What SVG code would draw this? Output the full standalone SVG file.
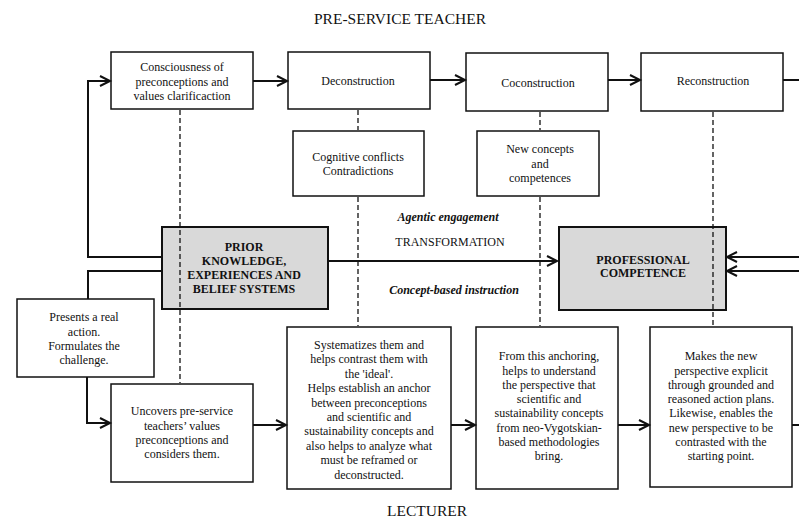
<svg xmlns="http://www.w3.org/2000/svg" width="799" height="521" viewBox="0 0 799 521">
<style>
text{font-family:"Liberation Serif","Times New Roman",serif;font-size:12px;fill:#111;text-anchor:middle}
.box{fill:#fff;stroke:#111;stroke-width:1.5}
.gbox{fill:#d9d9d9;stroke:#111;stroke-width:2}
.ln{fill:none;stroke:#111;stroke-width:2}
.dash{fill:none;stroke:#111;stroke-width:1.3;stroke-dasharray:5,3}
.big{font-size:15.5px}
.b{font-weight:bold}
.bi{font-weight:bold;font-style:italic}
</style>
<defs>
<marker id="ah" markerUnits="userSpaceOnUse" markerWidth="14" markerHeight="14" refX="11" refY="6" orient="auto" overflow="visible">
<path d="M1,1 L11,6 L1,11" fill="none" stroke="#111" stroke-width="2"/>
</marker>
</defs>
<rect width="799" height="521" fill="#fff"/>
<text class="big" x="400" y="24">PRE-SERVICE TEACHER</text>
<text class="big" x="427" y="516">LECTURER</text>

<g id="consciousness">
<rect class="box" x="111" y="52" width="142" height="57"/>
<text x="182" y="71">Consciousness of</text>
<text x="182" y="86">preconceptions and</text>
<text x="182" y="100">values clarificaction</text>
</g>
<g id="deconstruction">
<rect class="box" x="288" y="52" width="142" height="57"/>
<text x="358" y="85">Deconstruction</text>
</g>
<g id="coconstruction">
<rect class="box" x="466" y="53" width="142" height="58"/>
<text x="538" y="87">Coconstruction</text>
</g>
<g id="reconstruction">
<rect class="box" x="641" y="53" width="142" height="58"/>
<text x="713" y="85">Reconstruction</text>
</g>
<g id="cognitive">
<rect class="box" x="293" y="131" width="131" height="65"/>
<text x="358" y="161">Cognitive conflicts</text>
<text x="358" y="175">Contradictions</text>
</g>
<g id="newconcepts">
<rect class="box" x="477" y="131" width="122" height="65"/>
<text x="540" y="153">New concepts</text>
<text x="540" y="168">and</text>
<text x="540" y="182">competences</text>
</g>

<g id="labels">
<text class="bi" x="448" y="221">Agentic engagement</text>
<text x="450" y="246">TRANSFORMATION</text>
<text class="bi" x="454" y="294">Concept-based instruction</text>
</g>

<g id="prior">
<rect class="gbox" x="162" y="227" width="166" height="82"/>
<text class="b" x="244" y="251">PRIOR</text>
<text class="b" x="244" y="265">KNOWLEDGE,</text>
<text class="b" x="244" y="279">EXPERIENCES AND</text>
<text class="b" x="244" y="293">BELIEF SYSTEMS</text>
</g>
<g id="professional">
<rect class="gbox" x="559" y="227" width="167" height="83"/>
<text class="b" x="643" y="264">PROFESSIONAL</text>
<text class="b" x="643" y="277">COMPETENCE</text>
</g>

<g id="presents">
<rect class="box" x="17" y="299" width="137" height="78"/>
<text x="84" y="321">Presents a real</text>
<text x="84" y="336">action.</text>
<text x="84" y="350">Formulates the</text>
<text x="84" y="364">challenge.</text>
</g>
<g id="uncovers">
<rect class="box" x="111" y="384" width="142" height="98"/>
<text x="182" y="415">Uncovers pre-service</text>
<text x="182" y="430">teachers’ values</text>
<text x="182" y="444">preconceptions and</text>
<text x="182" y="458">considers them.</text>
</g>
<g id="systematizes">
<rect class="box" x="287" y="327" width="164" height="162"/>
<text x="369" y="349">Systematizes them and</text>
<text x="369" y="363">helps contrast them with</text>
<text x="369" y="378">the 'ideal'.</text>
<text x="369" y="392">Helps establish an anchor</text>
<text x="369" y="407">between preconceptions</text>
<text x="369" y="421">and scientific and</text>
<text x="369" y="435">sustainability concepts and</text>
<text x="369" y="450">also helps to analyze what</text>
<text x="369" y="464">must be reframed or</text>
<text x="369" y="479">deconstructed.</text>
</g>
<g id="from">
<rect class="box" x="476" y="327" width="142" height="162"/>
<text x="549" y="360">From this anchoring,</text>
<text x="549" y="375">helps to understand</text>
<text x="549" y="389">the perspective that</text>
<text x="549" y="403">scientific and</text>
<text x="549" y="417">sustainability concepts</text>
<text x="549" y="432">from neo-Vygotskian-</text>
<text x="549" y="446">based methodologies</text>
<text x="549" y="460">bring.</text>
</g>
<g id="makes">
<rect class="box" x="650" y="327" width="142" height="160"/>
<text x="721" y="360">Makes the new</text>
<text x="721" y="375">perspective explicit</text>
<text x="721" y="389">through grounded and</text>
<text x="721" y="403">reasoned action plans.</text>
<text x="721" y="417">Likewise, enables the</text>
<text x="721" y="432">new perspective to be</text>
<text x="721" y="446">contrasted with the</text>
<text x="721" y="460">starting point.</text>
</g>

<g id="connectors">
<path class="dash" d="M180,110 V383"/>
<path class="dash" d="M358,110 V130 M358,197 V326"/>
<path class="dash" d="M540,112 V130 M540,197 V326"/>
<path class="dash" d="M713,112 V326"/>
<path class="ln" d="M162,257 H88 V81 H110" marker-end="url(#ah)"/>
<path class="ln" d="M253,81 H287" marker-end="url(#ah)"/>
<path class="ln" d="M430,80 H465" marker-end="url(#ah)"/>
<path class="ln" d="M608,80 H640" marker-end="url(#ah)"/>
<path class="ln" d="M783,80 H799"/>
<path class="ln" d="M328,261 H557" marker-end="url(#ah)"/>
<path class="ln" d="M799,257 H727" marker-end="url(#ah)"/>
<path class="ln" d="M799,271 H727" marker-end="url(#ah)"/>
<path class="ln" d="M162,271 H88 V299"/>
<path class="ln" d="M87,377 V423 H110" marker-end="url(#ah)"/>
<path class="ln" d="M253,425 H286" marker-end="url(#ah)"/>
<path class="ln" d="M451,425 H475" marker-end="url(#ah)"/>
<path class="ln" d="M618,425 H649" marker-end="url(#ah)"/>
<path class="ln" d="M792,425 H799"/>
</g>
</svg>
